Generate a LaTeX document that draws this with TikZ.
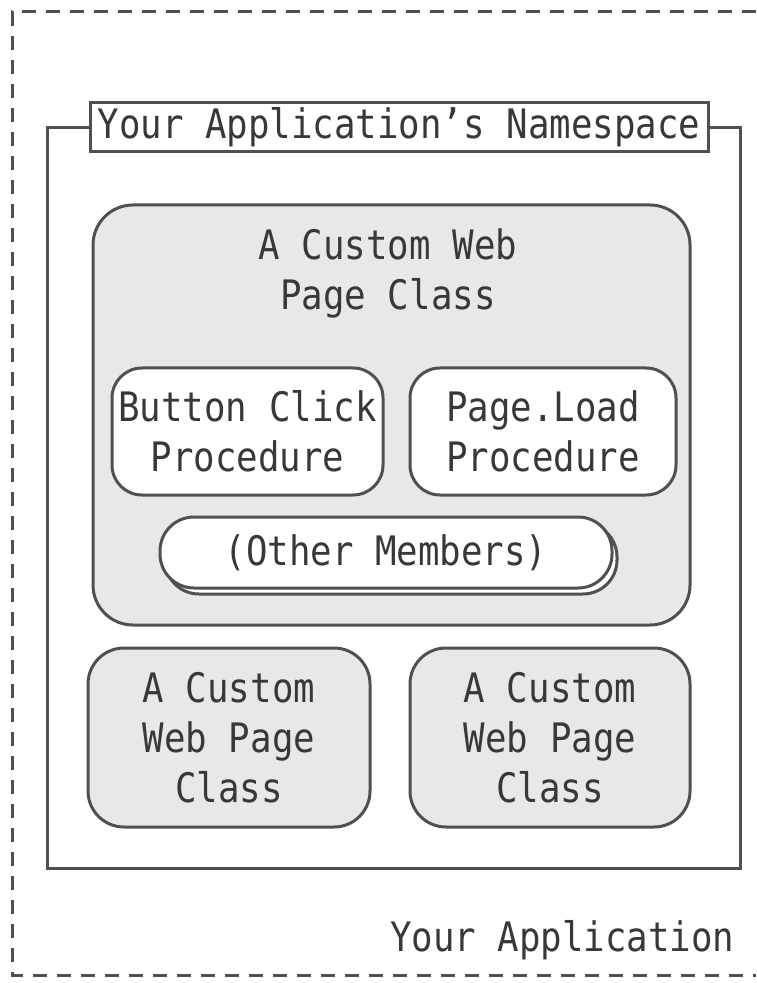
\documentclass[tikz,border=0pt]{standalone}
\usepackage{fontspec}
\usepackage{xcolor}
\usepackage{tikz}
\usetikzlibrary{shadows}
\newfontfamily\boxfont[FakeStretch=0.88]{DejaVu Sans Mono}
\definecolor{linegray}{HTML}{505050}
\definecolor{boxgray}{HTML}{E8E8E8}
\definecolor{textgray}{HTML}{383838}
\tikzset{
	classbox/.style={draw=linegray, fill=boxgray, line width=1.5pt, align=center, inner sep=0pt},
	memberbox/.style={draw=linegray, fill=white, line width=1.5pt, align=center, inner sep=0pt,
		rounded corners=15pt, minimum height=63.5pt}
}

\begin{document}
\begin{tikzpicture}[x=0.5pt, y=-0.5pt, line width=1.5pt, text=textgray,
			font=\boxfont\fontsize{20.3}{25}\selectfont]
		\useasboundingbox (0, 0) rectangle (756, 983);
		\draw[linegray, dash pattern=on 7pt off 5pt] (756, 12) -- (12, 12) -- (12, 975) -- (756, 975);
		\node[anchor=east, inner sep=0pt] (app) at (736, 940) {Your Application};

		\draw[linegray] (47, 128) rectangle (740, 868);
		\node[draw=linegray, fill=white, minimum width=309pt, minimum height=24.5pt, inner sep=0pt] (space) at (399, 127.5) {Your Application’s Namespace};

		\node[classbox, rounded corners=20pt, minimum width=298.5pt, minimum height=210pt] (page) at (391.5, 415) {};
		\node[align=center] (pagetitle) at (388, 273) {A Custom Web\\Page Class};
		\node[memberbox, minimum width=135.5pt] (click) at (247.5, 431.5) {Button Click\\Procedure};
		\node[memberbox, minimum width=133pt] (load) at (543, 431.5) {Page.Load\\Procedure};
		\node[memberbox, rounded corners=17pt, minimum width=226pt, minimum height=35.5pt,
			copy shadow={shadow xshift=2.5pt, shadow yshift=-3pt}] (other) at (386, 552.5) {(Other Members)};

		\node[classbox, rounded corners=18pt, minimum width=141pt, minimum height=89.5pt] (left) at (229, 737.5) {A Custom\\Web Page\\Class};
		\node[classbox, rounded corners=18pt, minimum width=140pt, minimum height=89.5pt] (right) at (550, 737.5) {A Custom\\Web Page\\Class};
	\end{tikzpicture}
\end{document}
